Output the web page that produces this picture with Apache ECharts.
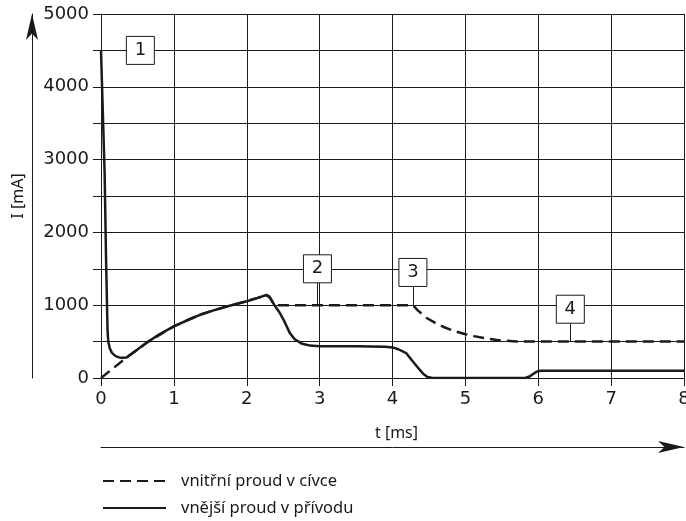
<!DOCTYPE html>
<html><head><meta charset="utf-8">
<script src="https://cdn.jsdelivr.net/npm/echarts@6/dist/echarts.min.js"></script>
<style>html,body{margin:0;padding:0;background:#fff}#c{width:686px;height:521px}</style>
</head><body><div id="c"></div>
<script>
// ---- data ----
const seriesNames = ['vnitřní proud v cívce', 'vnější proud v přívodu'];
const xName = 't [ms]';
const yName = 'I [mA]';
const xTickLabels = ['0','1','2','3','4','5','6','7','8'];
const yTickLabels = ['0','1000','2000','3000','4000','5000'];

// outer current (solid)
const outerT = [0, 0.05, 0.07, 0.09, 0.10, 0.12, 0.15, 0.20, 0.25, 0.30, 0.35, 0.45, 0.55, 0.65, 0.80, 1.0, 1.2, 1.35, 1.5, 1.7, 2.0, 2.15, 2.27, 2.31, 2.38, 2.45, 2.52, 2.59, 2.66, 2.75, 2.87, 3.0, 3.5, 3.9, 4.0, 4.08, 4.14, 4.19, 4.26, 4.35, 4.42, 4.48, 4.55, 5.0, 5.5, 5.82, 5.88, 5.95, 6.0, 6.05, 7.0, 8.0];
const outerI = [4500, 2800, 1600, 650, 500, 410, 345, 300, 283, 279, 282, 355, 428, 500, 600, 710, 800, 865, 915, 975, 1055, 1100, 1140, 1120, 1000, 900, 770, 620, 530, 475, 445, 435, 435, 430, 420, 395, 365, 340, 251, 141, 60, 15, 0, 0, 0, 0, 20, 70, 95, 100, 100, 100];

// inner current (dashed)
const innerT = [0, 0.35, 0.65, 1.0, 1.2, 1.35, 1.5, 1.7, 2.0, 2.15, 2.27, 2.32, 2.38, 3.0, 4.28, 4.35, 4.47, 4.58, 4.70, 4.85, 4.99, 5.12, 5.25, 5.48, 5.70, 5.9, 7.0, 8.0];
const innerI = [0, 280, 500, 710, 800, 865, 915, 975, 1055, 1100, 1140, 1100, 1000, 1000, 1000, 925, 824, 760, 701, 645, 604, 575, 549, 516, 503, 500, 500, 500];

// numbered callouts
const calloutLabels = ['1', '2', '3', '4'];
const calloutT = [0.54, 2.97, 4.28, 6.44];
const calloutI = [4500, 1500, 1450, 945];
// leader lines
const leaderFrom = [[0, 4500], [2.97, 1305], [4.285, 1258], [6.445, 755]];
const leaderTo = [[0.35, 4500], [2.97, 1000], [4.285, 1000], [6.445, 500]];

// ---- chart ----
const ink = '#1a1a1a';
const numFont = 'DejaVu Sans';
const txtFont = 'Noto Sans';
const zip = (a, b) => a.map((v, i) => [v, b[i]]);

const chart = echarts.init(document.getElementById('c'), null, {renderer: 'canvas'});
chart.setOption({
  animation: false,
  backgroundColor: '#fff',
  grid: {left: 101, right: 2, top: 14, bottom: 143, containLabel: false, outerBoundsMode: 'none'},
  legend: {
    data: seriesNames,
    orient: 'vertical',
    left: 102, top: 471, padding: 0,
    itemWidth: 63, itemHeight: 14, itemGap: 7,
    itemStyle: {opacity: 0},
    textStyle: {fontFamily: txtFont, fontSize: 16.5, lineHeight: 20, color: ink, padding: [0, 0, 0, 10]},
    selectedMode: false
  },
  xAxis: [{
    type: 'value', min: 0, max: 8, interval: 1,
    name: xName, nameLocation: 'middle', nameGap: 55,
    nameTextStyle: {fontFamily: txtFont, fontSize: 16, color: ink, verticalAlign: 'middle', padding: [0, 0, 0, 8]},
    axisLine: {show: true, onZero: false, lineStyle: {color: ink, width: 1}},
    axisTick: {show: true, length: 8, lineStyle: {color: ink}},
    axisLabel: {margin: 12, fontFamily: numFont, fontSize: 18, color: ink,
      formatter: (v) => xTickLabels[Math.round(v)] ?? ''},
    splitLine: {show: true, lineStyle: {color: ink, width: 1}}
  }, {
    type: 'value', min: 0, max: 8, position: 'bottom', offset: 69,
    axisLine: {show: true, onZero: false, symbol: ['none', 'arrow'], symbolSize: [9, 26], lineStyle: {color: ink, width: 1}},
    axisTick: {show: false}, axisLabel: {show: false}, splitLine: {show: false}
  }],
  yAxis: [{
    type: 'value', min: 0, max: 5000, interval: 500,
    axisLine: {show: true, onZero: false, lineStyle: {color: ink, width: 1}},
    axisTick: {show: true, length: 8, interval: 0, lineStyle: {color: ink}},
    axisLabel: {margin: 12, fontFamily: numFont, fontSize: 18, color: ink,
      formatter: (v) => (v % 1000 === 0 ? yTickLabels[v / 1000] : '')},
    splitLine: {show: true, lineStyle: {color: ink, width: 1}}
  }, {
    type: 'value', min: 0, max: 5000, position: 'left', offset: 69,
    name: yName, nameLocation: 'middle', nameGap: 6, nameRotate: 90,
    nameTextStyle: {fontFamily: txtFont, fontSize: 16, color: ink},
    axisLine: {show: true, onZero: false, symbol: ['none', 'arrow'], symbolSize: [9, 26], lineStyle: {color: ink, width: 1}},
    axisTick: {show: false}, axisLabel: {show: false}, splitLine: {show: false}
  }],
  series: [{
    name: seriesNames[0], type: 'line', symbol: 'none', z: 4,
    data: zip(innerT, innerI),
    lineStyle: {color: ink, width: 2.5, type: [11, 6]},
    itemStyle: {color: ink}
  }, {
    name: seriesNames[1], type: 'line', symbol: 'none', z: 3,
    data: zip(outerT, outerI),
    lineStyle: {color: ink, width: 2.5, type: 'solid'},
    itemStyle: {color: ink},
    markLine: {
      silent: true, symbol: 'none', animation: false,
      lineStyle: {color: ink, width: 1, type: 'solid'},
      label: {show: false},
      data: leaderFrom.map((f, i) => [{coord: f}, {coord: leaderTo[i]}])
    },
    markPoint: {
      silent: true, animation: false,
      symbol: 'rect', symbolSize: [28, 28],
      itemStyle: {color: '#fff', borderColor: ink, borderWidth: 1},
      label: {show: true, position: 'inside', formatter: '{b}', fontFamily: numFont, fontSize: 18, color: ink},
      data: calloutLabels.map((l, i) => ({name: l, coord: [calloutT[i], calloutI[i]]}))
    }
  }]
});
</script>
</body></html>
